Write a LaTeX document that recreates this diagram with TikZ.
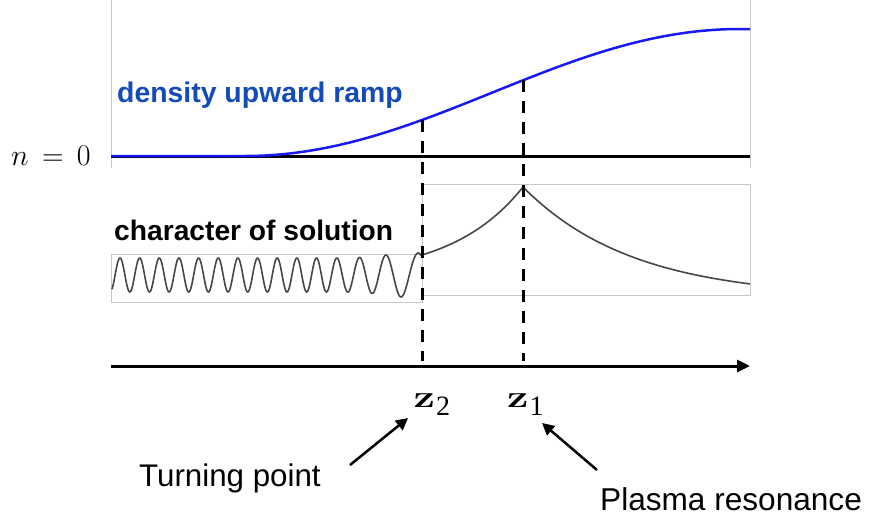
\RequirePackage{fix-cm}
\documentclass[tikz,border=0pt]{standalone}
\usepackage[no-math]{fontspec}
\setmainfont{Liberation Sans}
\newfontfamily\subserif{Liberation Serif}
\usetikzlibrary{arrows.meta}
\definecolor{rampblue}{RGB}{20,75,185}
\definecolor{curveblue}{RGB}{25,25,245}
\newcommand{\zsym}[1]{\scalebox{1.38}[1]{$\mathbf{z}$}\kern1pt\raisebox{-8pt}{\subserif\fontsize{28}{32}\selectfont #1}}
\begin{document}
\begin{tikzpicture}[x=1pt,y=-1pt,
  panel/.style={draw=black!22, line width=1pt},
  thickln/.style={draw=black, line width=3pt},
  vdash/.style={draw=black, line width=3pt, dash pattern=on 12pt off 9pt},
  wave/.style={draw=black!72, line width=1.6pt, line join=round},
  ramp/.style={draw=curveblue, line width=2.5pt, line join=round},
  note/.style={draw=black, -{Triangle[length=12pt,width=12pt]}, line width=2.5pt},
  lbl/.style={inner sep=0pt, anchor=base west}
]
\useasboundingbox (0,0) rectangle (872,523);

% top panel
\draw[panel] (111,0) -- (111,168);
\draw[panel] (750,0) -- (750,168);
\coordinate (nL) at (111,156);
\coordinate (nR) at (750,156);
\draw[thickln] (nL) -- (nR);
\draw[ramp] (111,156) -- (245,156) -- plot[domain=245:740,samples=150] (\x,{156-63.5*(1-cos((\x-245)/495*180))}) -- (750,29);
\coordinate (c2) at (422,{156-63.5*(1-cos(177/495*180))});
\coordinate (c1) at (523,{156-63.5*(1-cos(278/495*180))});

% middle panel
\draw[panel] (422,184) rectangle (750,295);
\draw[panel] (111,254) rectangle (422,302);
\draw[wave] plot[domain=112:422,samples=600,smooth] (\x,{275-(17+5*(min(1,max(0,(\x-340)/60)))^2)*cos(360*((\x-120)/19.65-0.000125*(max(0,\x-320))^2))});
\draw[wave] plot[domain=422:523,samples=60,smooth] (\x,{255-68*(exp(1.4*(\x-422)/101)-1)/3.0552});
\draw[wave] plot[domain=523:750,samples=100,smooth] (\x,{187+111*(1-exp(-(\x-523)/110))});

% axis
\coordinate (ax0) at (111,366);
\coordinate (ax1) at (750,366);
\draw[thickln, -{Triangle[length=13pt,width=12pt]}] (ax0) -- (ax1);

% dashed lines
\coordinate (d2) at (422,361);
\coordinate (d1) at (523,361);
\draw[vdash] (c2) -- (d2);
\draw[vdash] (c1) -- (d1);

% labels
\node[lbl, text=rampblue, font=\fontsize{28.4}{34}\selectfont\bfseries] (ramptxt) at (117,102) {density upward ramp};
\node[lbl, font=\fontsize{28.2}{34}\selectfont\bfseries] (chartxt) at (114,240.7) {character of solution};
\node[lbl, font=\fontsize{30}{36}\selectfont] (n0) at (11,165) {$n\mkern3mu=\mkern3mu0$};
\node[lbl, font=\fontsize{31}{36}\selectfont] (z2) at (413.5,407) {\zsym{2}};
\node[lbl, font=\fontsize{31}{36}\selectfont] (z1) at (507,407) {\zsym{1}};
\node[lbl, font=\fontsize{31.3}{38}\selectfont] (tp) at (139,486.7) {Turning point};
\node[lbl, font=\fontsize{31.6}{38}\selectfont] (pr) at (600,510) {Plasma resonance};

% annotation arrows
\coordinate (tpA) at (350,465);
\coordinate (tpB) at (408,418);
\coordinate (prA) at (597,470);
\coordinate (prB) at (542,423);
\draw[note] (tpA) -- (tpB);
\draw[note] (prA) -- (prB);
\end{tikzpicture}
\end{document}
